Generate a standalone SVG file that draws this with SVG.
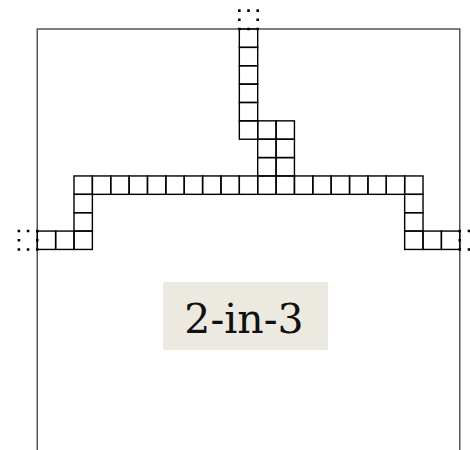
<svg xmlns="http://www.w3.org/2000/svg" width="470" height="450" viewBox="0 0 470 450">
<style>
.c{fill:none;stroke:#000;stroke-width:1.4}
.d{fill:none;stroke:#000;stroke-width:2.6;stroke-dasharray:2.6 6.585;stroke-dashoffset:1.3}
.f{fill:none;stroke:#555;stroke-width:1.5}
.lbl{font-family:"DejaVu Serif","Liberation Serif",serif;font-size:41px;fill:#111}
</style>
<rect width="470" height="450" fill="#fff"/>
<g id="frame">
<path class="f" d="M37.26,450V29H459.77V450"/>
</g>
<g id="cells" transform="translate(74,29)">
<!-- column col 9 rows 0..5 -->
<rect class="c" x="165.33" y="0" width="18.37" height="18.37"/>
<rect class="c" x="165.33" y="18.37" width="18.37" height="18.37"/>
<rect class="c" x="165.33" y="36.74" width="18.37" height="18.37"/>
<rect class="c" x="165.33" y="55.11" width="18.37" height="18.37"/>
<rect class="c" x="165.33" y="73.48" width="18.37" height="18.37"/>
<rect class="c" x="165.33" y="91.85" width="18.37" height="18.37"/>
<!-- block cols 10,11 rows 5..7 -->
<rect class="c" x="183.7" y="91.85" width="18.37" height="18.37"/>
<rect class="c" x="202.07" y="91.85" width="18.37" height="18.37"/>
<rect class="c" x="183.7" y="110.22" width="18.37" height="18.37"/>
<rect class="c" x="202.07" y="110.22" width="18.37" height="18.37"/>
<rect class="c" x="183.7" y="128.59" width="18.37" height="18.37"/>
<rect class="c" x="202.07" y="128.59" width="18.37" height="18.37"/>
<!-- row 8 cols 0..18 -->
<rect class="c" x="0" y="146.96" width="18.37" height="18.37"/>
<rect class="c" x="18.37" y="146.96" width="18.37" height="18.37"/>
<rect class="c" x="36.74" y="146.96" width="18.37" height="18.37"/>
<rect class="c" x="55.11" y="146.96" width="18.37" height="18.37"/>
<rect class="c" x="73.48" y="146.96" width="18.37" height="18.37"/>
<rect class="c" x="91.85" y="146.96" width="18.37" height="18.37"/>
<rect class="c" x="110.22" y="146.96" width="18.37" height="18.37"/>
<rect class="c" x="128.59" y="146.96" width="18.37" height="18.37"/>
<rect class="c" x="146.96" y="146.96" width="18.37" height="18.37"/>
<rect class="c" x="165.33" y="146.96" width="18.37" height="18.37"/>
<rect class="c" x="183.7" y="146.96" width="18.37" height="18.37"/>
<rect class="c" x="202.07" y="146.96" width="18.37" height="18.37"/>
<rect class="c" x="220.44" y="146.96" width="18.37" height="18.37"/>
<rect class="c" x="238.81" y="146.96" width="18.37" height="18.37"/>
<rect class="c" x="257.18" y="146.96" width="18.37" height="18.37"/>
<rect class="c" x="275.55" y="146.96" width="18.37" height="18.37"/>
<rect class="c" x="293.92" y="146.96" width="18.37" height="18.37"/>
<rect class="c" x="312.29" y="146.96" width="18.37" height="18.37"/>
<rect class="c" x="330.66" y="146.96" width="18.37" height="18.37"/>
<!-- left leg -->
<rect class="c" x="0" y="165.33" width="18.37" height="18.37"/>
<rect class="c" x="0" y="183.7" width="18.37" height="18.37"/>
<rect class="c" x="0" y="202.07" width="18.37" height="18.37"/>
<rect class="c" x="-18.37" y="202.07" width="18.37" height="18.37"/>
<rect class="c" x="-36.74" y="202.07" width="18.37" height="18.37"/>
<!-- right leg -->
<rect class="c" x="330.66" y="165.33" width="18.37" height="18.37"/>
<rect class="c" x="330.66" y="183.7" width="18.37" height="18.37"/>
<rect class="c" x="330.66" y="202.07" width="18.37" height="18.37"/>
<rect class="c" x="349.03" y="202.07" width="18.37" height="18.37"/>
<rect class="c" x="367.4" y="202.07" width="18.37" height="18.37"/>
<!-- dotted cells -->
<rect class="d" x="165.33" y="-18.37" width="18.37" height="18.37"/>
<rect class="d" x="-55.11" y="202.07" width="18.37" height="18.37"/>
<rect class="d" x="385.77" y="202.07" width="18.37" height="18.37"/>
</g>
<g id="label">
<rect x="163" y="282" width="165" height="68" fill="#ECEAE0"/>
<text class="lbl" x="244" y="333" text-anchor="middle">2-in-3</text>
</g>
</svg>
